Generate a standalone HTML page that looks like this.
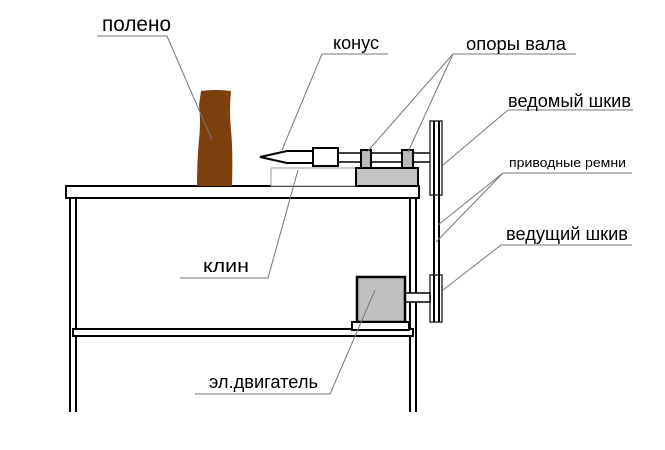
<!DOCTYPE html>
<html><head><meta charset="utf-8"><style>
html,body{margin:0;padding:0;background:#fff;}
svg{display:block;}
text{font-family:"Liberation Sans",sans-serif;fill:#000;}
</style></head><body>
<svg width="665" height="450" viewBox="0 0 665 450" xmlns="http://www.w3.org/2000/svg">
<g stroke="#000" stroke-width="2" fill="none">
<line x1="70" y1="198" x2="70" y2="412"/>
<line x1="76" y1="198" x2="76" y2="412"/>
<line x1="410" y1="198" x2="410" y2="412"/>
<line x1="416" y1="198" x2="416" y2="412"/>
<rect x="73" y="329" width="340" height="7" fill="#fff"/>
<rect x="66" y="186" width="353" height="12" fill="#fff"/>
</g>
<path d="M201 91 Q216 89 231 91 Q229 110 231 130 Q233 150 232 186 L197 186 Q197 160 199 140 Q201 120 199 105 Z" fill="#7b400c"/>
<rect x="271" y="168" width="86" height="18" fill="#fff" stroke="#999" stroke-width="1"/>
<rect x="338" y="153" width="94" height="9" fill="#fff" stroke="#000" stroke-width="1.5"/>
<path d="M260 157 L287 151 L313 151 L313 163 L287 163 Z" fill="#fff" stroke="#000" stroke-width="2"/>
<rect x="313" y="148" width="25" height="18" fill="#fff" stroke="#000" stroke-width="2"/>
<rect x="361" y="150" width="10" height="18" fill="#bbb" stroke="#000" stroke-width="2"/>
<rect x="402" y="150" width="11" height="18" fill="#bbb" stroke="#000" stroke-width="2"/>
<rect x="356" y="168" width="62" height="18" fill="#c4c4c4" stroke="#000" stroke-width="2"/>
<line x1="434" y1="195" x2="434" y2="275" stroke="#000" stroke-width="2"/>
<line x1="439" y1="195" x2="439" y2="275" stroke="#000" stroke-width="2"/>
<rect x="430" y="121" width="12" height="74" fill="#fff" stroke="#333" stroke-width="1.5"/>
<line x1="434" y1="121" x2="434" y2="195" stroke="#000" stroke-width="2"/>
<line x1="439" y1="121" x2="439" y2="195" stroke="#000" stroke-width="2"/>
<rect x="430" y="275" width="12" height="47" fill="#fff" stroke="#333" stroke-width="1.5"/>
<line x1="434" y1="275" x2="434" y2="322" stroke="#000" stroke-width="2"/>
<line x1="439" y1="275" x2="439" y2="322" stroke="#000" stroke-width="2"/>
<rect x="405" y="293" width="25" height="9" fill="#fff" stroke="#000" stroke-width="1.5"/>
<rect x="357" y="277" width="48" height="45" fill="#c0c0c0" stroke="#000" stroke-width="2.5"/>
<rect x="352" y="322" width="57" height="8" fill="#fff" stroke="#000" stroke-width="2"/>
<g stroke="#777" stroke-width="1" fill="none">
<polyline points="97,36 167,36 212,140"/>
<polyline points="388,54 322,54 282,150"/>
<polyline points="576,54 453,54 367,152"/>
<line x1="453" y1="54" x2="408" y2="152"/>
<polyline points="633,110 508,110 443,165"/>
<polyline points="632,173 503,173 438,225"/>
<line x1="503" y1="173" x2="436" y2="242"/>
<polyline points="632,245 501,245 443,290"/>
<polyline points="180,278 268,278 298,170"/>
<polyline points="195,394 330,394 375,290"/>
</g>
<text x="102" y="31" font-size="21" textLength="69" lengthAdjust="spacingAndGlyphs">полено</text>
<text x="333" y="49" font-size="18" textLength="46" lengthAdjust="spacingAndGlyphs">конус</text>
<text x="466" y="50" font-size="18" textLength="100" lengthAdjust="spacingAndGlyphs">опоры вала</text>
<text x="508" y="107" font-size="18" textLength="123" lengthAdjust="spacingAndGlyphs">ведомый шкив</text>
<text x="509" y="167" font-size="13" textLength="117" lengthAdjust="spacingAndGlyphs">приводные ремни</text>
<text x="506" y="240" font-size="18" textLength="122" lengthAdjust="spacingAndGlyphs">ведущий шкив</text>
<text x="203" y="272" font-size="18" textLength="46" lengthAdjust="spacingAndGlyphs">клин</text>
<text x="209" y="388" font-size="18" textLength="109" lengthAdjust="spacingAndGlyphs">эл.двигатель</text>
</svg>
</body></html>
